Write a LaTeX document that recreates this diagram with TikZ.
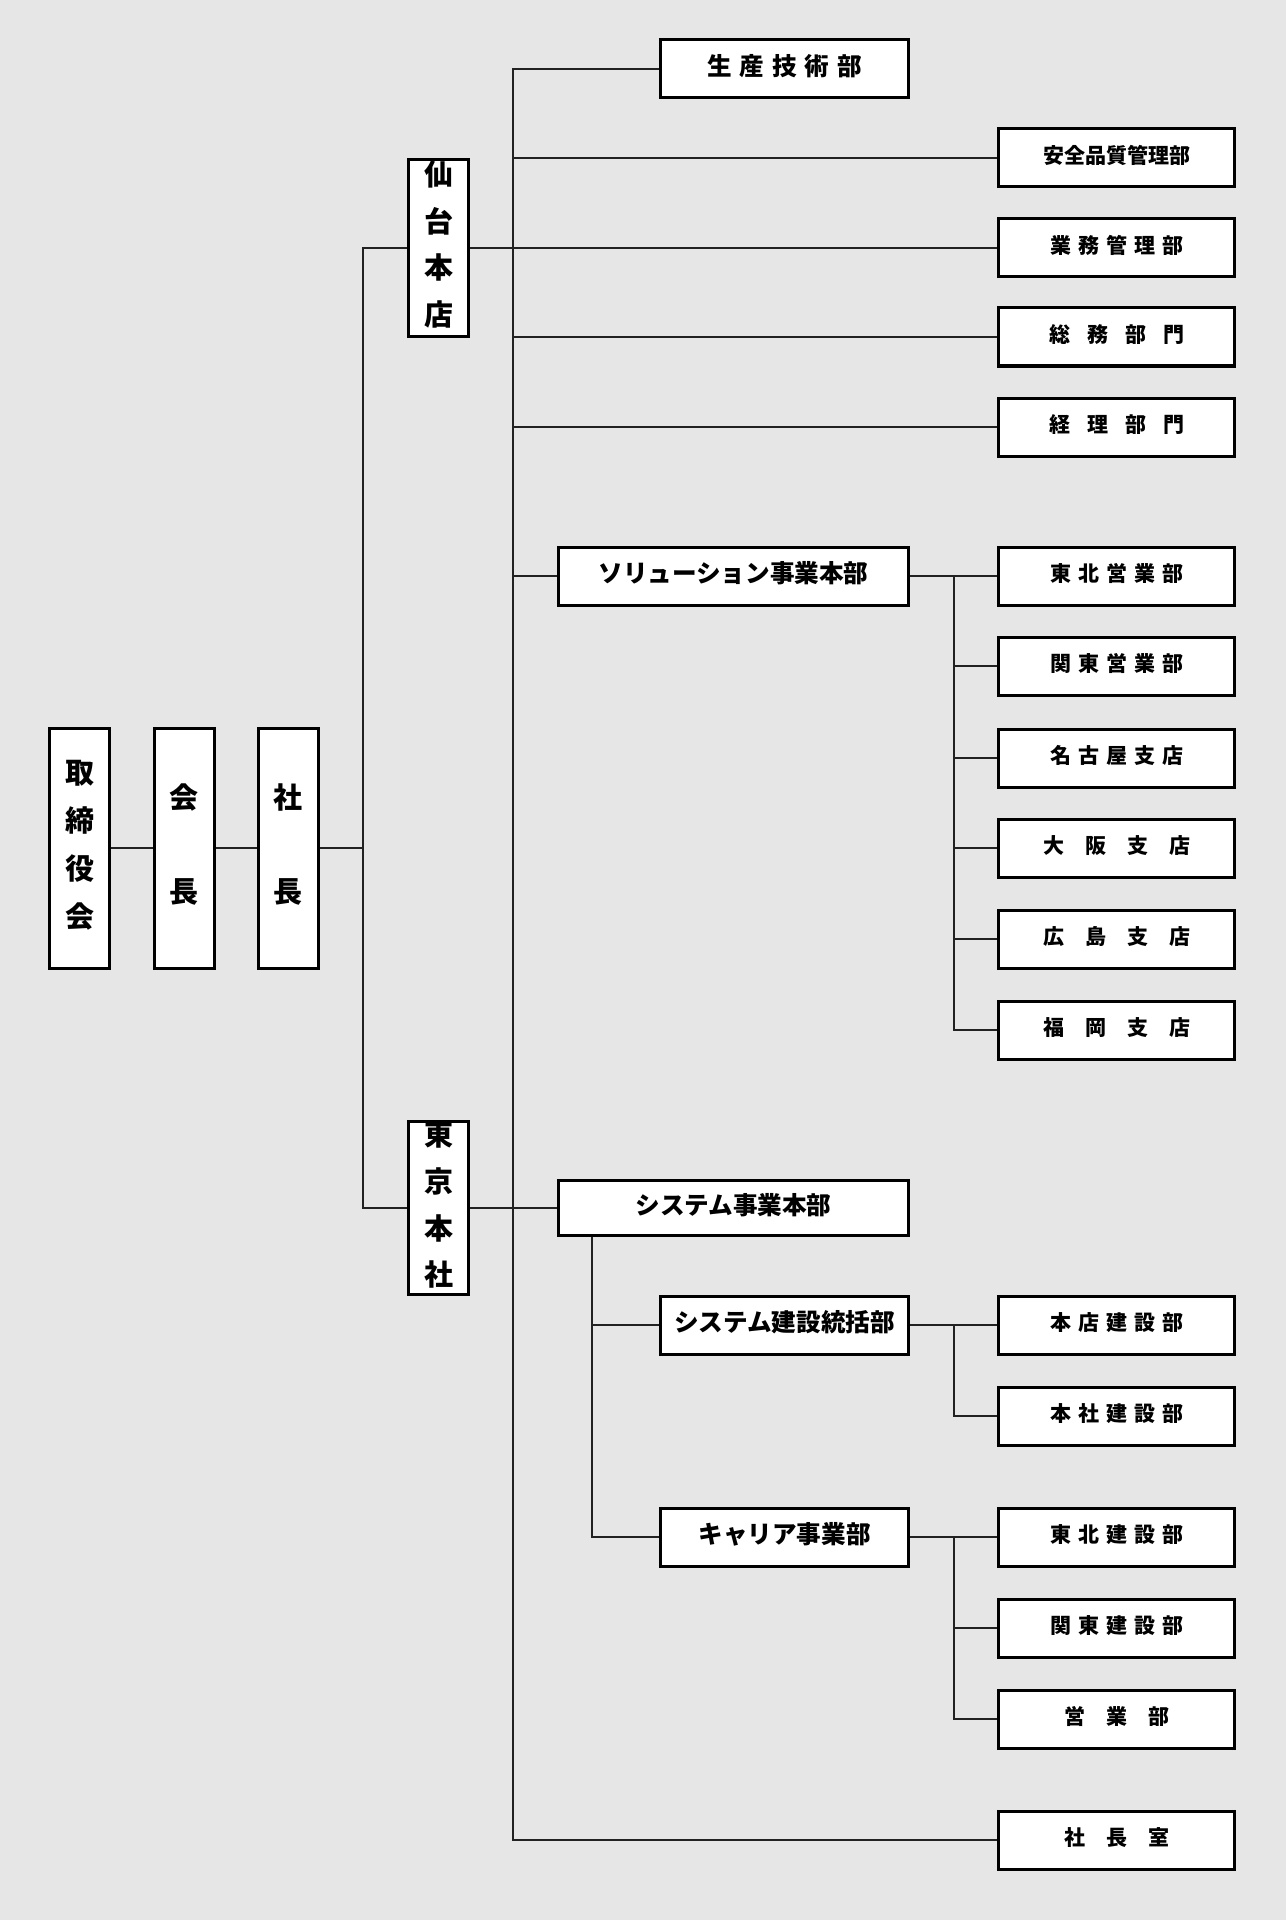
\documentclass[tikz,border=0pt]{standalone}
\usepackage{fontspec}
\setmainfont{Noto Sans CJK JP}
\usepackage{xcolor}
\definecolor{paper}{HTML}{E6E6E6}
\definecolor{linec}{HTML}{222222}
\newcommand{\gs}{\hspace{3.5pt}}
\newcommand{\gm}{\hspace{8.5pt}}
\newcommand{\gl}{\hspace{10.5pt}}

\begin{document}
\begin{tikzpicture}[x=0.5pt, y=-0.5pt,
  box/.style={draw, line width=1.5pt, fill=white, inner sep=0pt},
  vbox/.style={box, align=center, minimum width=30pt, text depth=4.5pt},
  div/.style={box, minimum height=29pt, text height=10.5pt, text depth=4pt, font=\bfseries\fontsize{12.3}{14}\selectfont},
  dept/.style={box, minimum width=118pt, minimum height=29pt, text height=9pt, text depth=3.5pt, font=\bfseries\fontsize{10.5}{12}\selectfont},
  link/.style={line width=0.9pt, linec}]
\fill [paper] (0,0) rectangle (1286,1920);

% top of the tree
\node [vbox, minimum height=120pt, text height=84.2pt, font=\bfseries\fontsize{14.5}{24}\selectfont] (board) at (79.5,848) {取\\締\\役\\会};
\node [vbox, minimum height=120pt, text height=59.2pt, font=\bfseries\fontsize{14.5}{47}\selectfont] (chair) at (184,848) {会\\長};
\node [vbox, minimum height=120pt, text height=59.2pt, font=\bfseries\fontsize{14.5}{47}\selectfont] (pres) at (288,848) {社\\長};
\node [vbox, minimum height=88.5pt, text height=81.95pt, font=\bfseries\fontsize{14.5}{23.25}\selectfont] (sendai) at (438.5,248) {仙\\台\\本\\店};
\node [vbox, minimum height=85.5pt, text height=82.1pt, font=\bfseries\fontsize{14.5}{23.3}\selectfont] (tokyo) at (438.5,1208) {東\\京\\本\\社};

% divisions
\node [div, minimum width=124pt] (seisan) at (784.5,69) {生\hspace{4pt}産\hspace{4pt}技\hspace{4pt}術\hspace{4pt}部};
\node [div, minimum width=175pt] (solution) at (733.5,576) {ソリューション事業本部};
\node [div, minimum width=175pt, minimum height=27.5pt] (sysbiz) at (733.5,1208) {システム事業本部};
\node [div, minimum width=124pt] (syscon) at (784.5,1325) {システム建設統括部};
\node [div, minimum width=124pt] (career) at (784.5,1537) {キャリア事業部};

% departments
\node [dept] (anzen) at (1116.5,158) {安全品質管理部};
\node [dept] (gyomu) at (1116.5,248) {業\gs 務\gs 管\gs 理\gs 部};
\node [dept] (somu) at (1116.5,337) {総\gm 務\gm 部\gm 門};
\node [dept] (keiri) at (1116.5,427) {経\gm 理\gm 部\gm 門};
\node [dept] (tohoku) at (1116.5,576) {東\gs 北\gs 営\gs 業\gs 部};
\node [dept] (kanto) at (1116.5,666) {関\gs 東\gs 営\gs 業\gs 部};
\node [dept] (nagoya) at (1116.5,758) {名\gs 古\gs 屋\gs 支\gs 店};
\node [dept] (osaka) at (1116.5,848) {大\gl 阪\gl 支\gl 店};
\node [dept] (hiroshima) at (1116.5,939) {広\gl 島\gl 支\gl 店};
\node [dept] (fukuoka) at (1116.5,1030) {福\gl 岡\gl 支\gl 店};
\node [dept] (honten) at (1116.5,1325) {本\gs 店\gs 建\gs 設\gs 部};
\node [dept] (honsha) at (1116.5,1416) {本\gs 社\gs 建\gs 設\gs 部};
\node [dept] (tohokuk) at (1116.5,1537) {東\gs 北\gs 建\gs 設\gs 部};
\node [dept] (kantok) at (1116.5,1628) {関\gs 東\gs 建\gs 設\gs 部};
\node [dept] (eigyo) at (1116.5,1719) {営\gl 業\gl 部};
\node [dept] (office) at (1116.5,1840) {社\gl 長\gl 室};

% joints
\coordinate (j1) at (363,848);
\coordinate (j2) at (513,69);
\coordinate (j3) at (954,576);
\coordinate (j4) at (592,1325);
\coordinate (j5) at (954,1325);
\coordinate (j6) at (954,1537);

\draw [link] (board) -- (chair);
\draw [link] (chair) -- (pres);
\draw [link] (pres) -- (j1);
\draw [link] (sendai.west) -| (j1) |- (tokyo.west);
\draw [link] (seisan.west) -- (j2) |- (office.west);
\draw [link] (sendai.east) -- (gyomu.west);
\draw [link] (tokyo.east) -- (sysbiz.west);
\draw [link] (anzen.west) -- (anzen.west -| j2);
\draw [link] (somu.west) -- (somu.west -| j2);
\draw [link] (keiri.west) -- (keiri.west -| j2);
\draw [link] (solution.west) -- (solution.west -| j2);
\draw [link] (solution.east) -- (tohoku.west);
\draw [link] (j3) |- (fukuoka.west);
\draw [link] (kanto.west) -- (kanto.west -| j3);
\draw [link] (nagoya.west) -- (nagoya.west -| j3);
\draw [link] (osaka.west) -- (osaka.west -| j3);
\draw [link] (hiroshima.west) -- (hiroshima.west -| j3);
\draw [link] (sysbiz.south -| j4) |- (career.west);
\draw [link] (syscon.west) -- (j4);
\draw [link] (syscon.east) -- (honten.west);
\draw [link] (j5) |- (honsha.west);
\draw [link] (career.east) -- (tohokuk.west);
\draw [link] (j6) |- (eigyo.west);
\draw [link] (kantok.west) -- (kantok.west -| j6);
\end{tikzpicture}
\end{document}
